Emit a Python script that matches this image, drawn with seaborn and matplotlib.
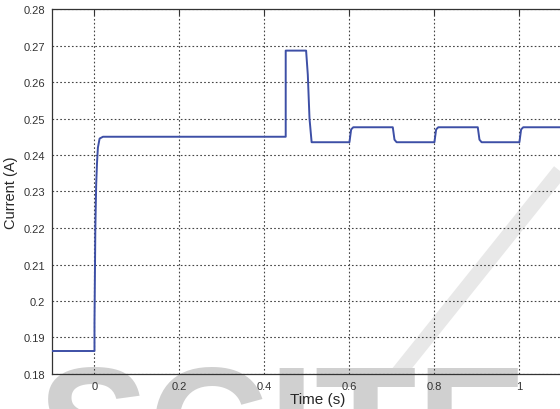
import matplotlib
matplotlib.use("Agg")
import matplotlib.pyplot as plt
import seaborn as sns
import pandas as pd
from matplotlib.lines import Line2D

time_s = [-0.1, 0.0, 0.0, 0.002, 0.004, 0.006, 0.008, 0.012, 0.02,
          0.45, 0.45, 0.498, 0.502, 0.506, 0.511,
          0.6, 0.604, 0.609, 0.702, 0.706, 0.711,
          0.8, 0.804, 0.809, 0.902, 0.906, 0.911,
          1.0, 1.004, 1.009, 1.15]
current_a = [0.1863, 0.1863, 0.194, 0.220, 0.232, 0.238, 0.242, 0.2445, 0.245,
             0.245, 0.2686, 0.2686, 0.262, 0.250, 0.2435,
             0.2435, 0.2470, 0.2476, 0.2476, 0.2442, 0.2435,
             0.2435, 0.2470, 0.2476, 0.2476, 0.2442, 0.2435,
             0.2435, 0.2470, 0.2476, 0.2476]
x_ticks = [0, 0.2, 0.4, 0.6, 0.8, 1]
x_tick_labels = ["0", "0.2", "0.4", "0.6", "0.8", "1"]
y_ticks = [0.18, 0.19, 0.2, 0.21, 0.22, 0.23, 0.24, 0.25, 0.26, 0.27, 0.28]
y_tick_labels = ["0.18", "0.19", "0.2", "0.21", "0.22", "0.23", "0.24", "0.25", "0.26", "0.27", "0.28"]

sns.set_style("white")
plt.rcParams['font.family'] = ['Liberation Sans', 'DejaVu Sans']

fig = plt.figure(figsize=(5.6, 4.1), dpi=100, facecolor="white")
ax = fig.add_axes([52/560, 35/410, 532/560, 365/410])
ax.set_facecolor("none")

df = pd.DataFrame({"t": time_s, "i": current_a})
sns.lineplot(data=df, x="t", y="i", ax=ax, color="#3d4fa6", linewidth=1.4,
             estimator=None, sort=False, zorder=3)

ax.set_xlim(-0.1, 1.152)
ax.set_ylim(0.18, 0.28)
ax.set_xticks(x_ticks)
ax.set_xticklabels(x_tick_labels)
ax.set_yticks(y_ticks)
ax.set_yticklabels(y_tick_labels)
ax.grid(True, color="#444444", linestyle=(0, (1.5, 2)), linewidth=0.8)
ax.tick_params(direction="in", length=4, labelsize=8, labelcolor="#333333",
               color="#333333", top=True, right=True, pad=5)
for s in ax.spines.values():
    s.set_color("#333333")
    s.set_linewidth(0.9)
ax.set_xlabel("Time (s)", fontsize=11, labelpad=1)
ax.set_ylabel("Current (A)", fontsize=10.5, labelpad=4)

# watermark (light grey, mostly cropped at the bottom), drawn behind the axes
fig.text(0.066, -0.178, "SCITE", fontsize=120, fontweight="bold", color="#d0d0d0",
         ha="left", va="baseline", zorder=-1)
fig.add_artist(Line2D([392/560, 560/560], [1-382/410, 1-172/410], transform=fig.transFigure,
                      color="#e8e8e8", linewidth=11, solid_capstyle="butt", zorder=-1))

fig.savefig("out.png", dpi=100)
